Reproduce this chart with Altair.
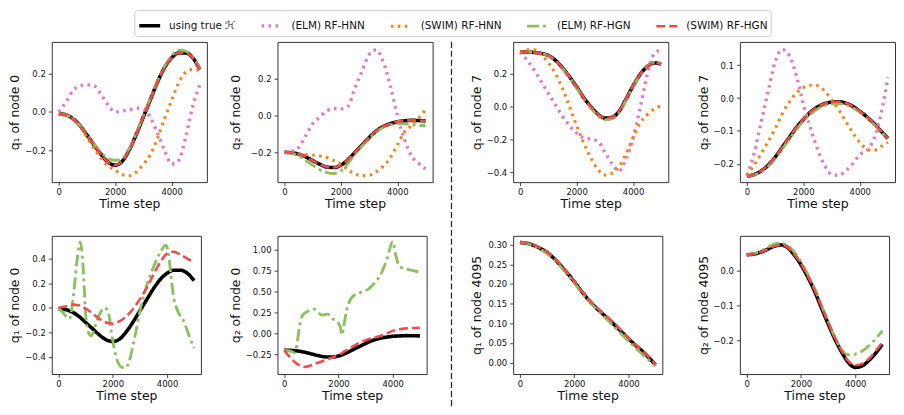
import altair as alt
import pandas as pd

# ---------------- data ----------------
METHODS = ["using true ℋ", "(ELM) RF-HNN", "(SWIM) RF-HNN", "(ELM) RF-HGN", "(SWIM) RF-HGN"]
COLORS = ["#000000", "#e377c2", "#ff7f0e", "#8cbf5e", "#f44a4a"]
DASHES = [[1, 0], [2.6, 4.4], [2.6, 4.4], [12, 4, 3, 4], [9, 4]]
WIDTHS = [3.6, 2.6, 2.6, 2.8, 2.8]

T = [0, 250, 500, 750, 1000, 1250, 1500, 1750, 2000, 2250, 2500,
     2750, 3000, 3250, 3500, 3750, 4000, 4250, 4500, 4750, 5000]

# q1 of node 0
P1_TRUE = [-0.01, -0.015, -0.035, -0.07, -0.12, -0.17, -0.22, -0.26, -0.275, -0.255, -0.195,
           -0.115, -0.025, 0.065, 0.155, 0.23, 0.28, 0.305, 0.305, 0.28, 0.22]
P1_ELM_HNN = [0.0, 0.05, 0.11, 0.135, 0.14, 0.135, 0.09, 0.035, 0.0, 0.005, 0.01,
              0.02, 0.015, -0.03, -0.11, -0.2, -0.27, -0.25, -0.13, 0.03, 0.14]
P1_SWIM_HNN = [-0.01, -0.02, -0.035, -0.075, -0.13, -0.19, -0.24, -0.28, -0.3, -0.325, -0.33,
               -0.31, -0.27, -0.22, -0.135, -0.035, 0.06, 0.15, 0.205, 0.22, 0.215]
P1_ELM_HGN = [-0.01, -0.015, -0.035, -0.07, -0.12, -0.165, -0.21, -0.24, -0.25, -0.24, -0.19,
              -0.11, -0.02, 0.07, 0.16, 0.235, 0.29, 0.32, 0.315, 0.285, 0.225]
P1_SWIM_HGN = [-0.01, -0.015, -0.035, -0.07, -0.12, -0.17, -0.22, -0.26, -0.275, -0.255, -0.195,
               -0.115, -0.025, 0.065, 0.155, 0.23, 0.28, 0.305, 0.305, 0.28, 0.22]

# q2 of node 0
P2_TRUE = [-0.2, -0.203, -0.21, -0.225, -0.245, -0.265, -0.28, -0.283, -0.27, -0.24, -0.2,
           -0.16, -0.12, -0.085, -0.06, -0.045, -0.035, -0.03, -0.027, -0.028, -0.03]
P2_ELM_HNN = [-0.2, -0.195, -0.175, -0.11, -0.045, -0.01, 0.025, 0.037, 0.035, 0.05, 0.15,
              0.24, 0.33, 0.355, 0.29, 0.16, 0.0, -0.13, -0.22, -0.26, -0.29]
P2_SWIM_HNN = [-0.2, -0.205, -0.21, -0.213, -0.215, -0.22, -0.228, -0.245, -0.265, -0.295, -0.318,
               -0.327, -0.325, -0.305, -0.275, -0.23, -0.16, -0.09, -0.055, -0.015, 0.03]
P2_ELM_HGN = [-0.2, -0.205, -0.22, -0.245, -0.27, -0.295, -0.31, -0.315, -0.3, -0.26, -0.21,
              -0.165, -0.125, -0.09, -0.065, -0.05, -0.045, -0.045, -0.05, -0.055, -0.055]
P2_SWIM_HGN = [-0.2, -0.203, -0.21, -0.225, -0.245, -0.265, -0.28, -0.283, -0.27, -0.24, -0.2,
               -0.16, -0.12, -0.085, -0.06, -0.045, -0.035, -0.03, -0.027, -0.028, -0.03]

# q1 of node 7
P3_TRUE = [0.33, 0.33, 0.328, 0.322, 0.31, 0.28, 0.235, 0.18, 0.12, 0.055, 0.0,
           -0.045, -0.07, -0.065, -0.03, 0.045, 0.125, 0.195, 0.242, 0.265, 0.258]
P3_ELM_HNN = [0.33, 0.28, 0.22, 0.15, 0.08, 0.01, -0.06, -0.115, -0.16, -0.19, -0.197,
              -0.21, -0.275, -0.345, -0.39, -0.32, -0.19, -0.01, 0.19, 0.32, 0.345]
P3_SWIM_HNN = [0.33, 0.345, 0.345, 0.315, 0.265, 0.2, 0.11, 0.0, -0.115, -0.22, -0.31,
               -0.38, -0.415, -0.405, -0.365, -0.285, -0.19, -0.1, -0.05, -0.015, 0.005]
P3_ELM_HGN = [0.33, 0.33, 0.328, 0.322, 0.308, 0.278, 0.232, 0.176, 0.115, 0.05, -0.008,
              -0.055, -0.08, -0.075, -0.038, 0.04, 0.122, 0.193, 0.244, 0.268, 0.262]
P3_SWIM_HGN = [0.33, 0.33, 0.328, 0.322, 0.31, 0.28, 0.235, 0.18, 0.12, 0.055, 0.0,
               -0.045, -0.07, -0.065, -0.03, 0.045, 0.125, 0.195, 0.242, 0.265, 0.258]

# q2 of node 7
P4_TRUE = [-0.238, -0.233, -0.222, -0.205, -0.18, -0.15, -0.12, -0.09, -0.065, -0.043, -0.027,
           -0.017, -0.012, -0.011, -0.015, -0.025, -0.04, -0.057, -0.077, -0.1, -0.123]
P4_ELM_HNN = [-0.235, -0.17, -0.075, 0.02, 0.11, 0.148, 0.13, 0.07, -0.018, -0.09, -0.155,
              -0.205, -0.232, -0.235, -0.222, -0.2, -0.172, -0.16, -0.125, -0.05, 0.063]
P4_SWIM_HNN = [-0.235, -0.205, -0.17, -0.133, -0.093, -0.048, -0.012, 0.015, 0.032, 0.039, 0.038,
               0.022, -0.005, -0.035, -0.07, -0.105, -0.135, -0.155, -0.16, -0.148, -0.135]
P4_ELM_HGN = [-0.238, -0.234, -0.224, -0.208, -0.184, -0.155, -0.125, -0.096, -0.07, -0.049, -0.033,
              -0.023, -0.018, -0.017, -0.02, -0.029, -0.043, -0.06, -0.08, -0.102, -0.124]
P4_SWIM_HGN = [-0.238, -0.233, -0.222, -0.205, -0.18, -0.15, -0.12, -0.09, -0.065, -0.043, -0.027,
               -0.017, -0.012, -0.011, -0.015, -0.025, -0.04, -0.057, -0.077, -0.1, -0.123]

# row 2: q1 of node 0
P5_TRUE = P1_TRUE
P5_ELM_HGN_T = [0, 200, 400, 550, 680, 800, 900, 1000, 1100, 1200, 1350, 1500, 1700, 1850,
                1950, 2100, 2300, 2450, 2600, 2800, 3000, 3250, 3500, 3750, 3950, 4050,
                4150, 4250, 4400, 4600, 4800, 5000]
P5_ELM_HGN = [0.0, -0.05, -0.09, 0.1, 0.38, 0.535, 0.35, -0.05, -0.2, -0.23, -0.15, -0.06, 0.0, -0.05,
              -0.2, -0.38, -0.48, -0.49, -0.44, -0.25, -0.03, 0.18, 0.33, 0.45, 0.51, 0.45,
              0.25, 0.08, -0.03, -0.1, -0.22, -0.33]
P5_SWIM_HGN = [0.0, 0.01, 0.025, 0.02, -0.008, -0.045, -0.09, -0.12, -0.13, -0.11, -0.07,
               -0.01, 0.07, 0.16, 0.27, 0.37, 0.44, 0.455, 0.43, 0.4, 0.37]

# row 2: q2 of node 0
P6_TRUE = P2_TRUE
P6_ELM_HGN_T = [0, 200, 400, 480, 560, 650, 750, 900, 1100, 1250, 1400, 1600, 1800, 1950, 2060,
                2130, 2200, 2300, 2450, 2650, 2900, 3100, 3300, 3550, 3800, 4000, 4100, 4250,
                4500, 4750, 5000]
P6_ELM_HGN = [-0.2, -0.21, -0.23, -0.1, 0.08, 0.2, 0.24, 0.27, 0.29, 0.25, 0.22, 0.23, 0.17, 0.14, 0.08,
              -0.02, 0.1, 0.28, 0.41, 0.47, 0.5, 0.53, 0.59, 0.7, 0.9, 1.1, 0.95, 0.8,
              0.77, 0.75, 0.73]
P6_SWIM_HGN = [-0.2, -0.3, -0.37, -0.4, -0.38, -0.35, -0.32, -0.29, -0.26, -0.21, -0.16,
               -0.115, -0.08, -0.055, -0.035, -0.005, 0.03, 0.05, 0.06, 0.065, 0.068]

# row 2: q1 of node 4095
P7_TRUE = [0.305, 0.303, 0.298, 0.29, 0.28, 0.265, 0.247, 0.227, 0.206, 0.183, 0.162,
           0.143, 0.127, 0.111, 0.095, 0.078, 0.061, 0.045, 0.03, 0.013, -0.006]
P7_ELM_HGN = [0.305, 0.303, 0.297, 0.288, 0.277, 0.262, 0.244, 0.224, 0.203, 0.181, 0.16,
              0.141, 0.124, 0.107, 0.089, 0.072, 0.055, 0.038, 0.022, 0.007, -0.009]
P7_SWIM_HGN = [0.306, 0.304, 0.299, 0.291, 0.281, 0.266, 0.248, 0.228, 0.207, 0.184, 0.163,
               0.145, 0.129, 0.114, 0.099, 0.081, 0.063, 0.046, 0.031, 0.014, -0.005]

# row 2: q2 of node 4095
P8_TRUE = [0.045, 0.047, 0.052, 0.06, 0.069, 0.073, 0.066, 0.045, 0.017, -0.018, -0.058,
           -0.105, -0.151, -0.195, -0.232, -0.262, -0.276, -0.272, -0.257, -0.236, -0.21]
P8_ELM_HGN = [0.045, 0.048, 0.055, 0.065, 0.075, 0.078, 0.072, 0.053, 0.025, -0.01, -0.05,
              -0.097, -0.145, -0.19, -0.225, -0.24, -0.238, -0.23, -0.215, -0.195, -0.172]
P8_SWIM_HGN = [0.045, 0.047, 0.052, 0.06, 0.069, 0.073, 0.067, 0.047, 0.02, -0.015, -0.054,
               -0.1, -0.146, -0.19, -0.228, -0.258, -0.27, -0.266, -0.252, -0.23, -0.205]

X_TICKS = [0, 2000, 4000]

# ---------------- chart ----------------
color_scale = alt.Scale(domain=METHODS, range=COLORS)
dash_scale = alt.Scale(domain=METHODS, range=DASHES)
width_scale = alt.Scale(domain=METHODS, range=WIDTHS)

LEG = alt.Legend(
    title=None, orient="none", legendX=83, legendY=-32, direction="horizontal",
    columns=5, symbolType="stroke", symbolSize=441, labelFontSize=10.5,
    labelFont="DejaVu Sans", labelColor="#111111", labelOffset=7, columnPadding=19,
    padding=3, strokeColor="#cccccc", cornerRadius=3, fillColor="white",
)


def panel(title, ydom, yticks, yfmt, series, w, h, ext):
    layers = []
    for method, t, v in series:
        df = pd.DataFrame({"t": t, "v": v, "Method": method})
        layers.append(
            alt.Chart(df).mark_line(interpolate="monotone", clip=True).encode(
                x=alt.X("t:Q", scale=alt.Scale(domain=[-250, 5250], nice=False, zero=False),
                        axis=alt.Axis(values=X_TICKS, format="d", title="Time step")),
                y=alt.Y("v:Q", scale=alt.Scale(domain=ydom, nice=False, zero=False),
                        axis=alt.Axis(values=yticks, format=yfmt, title=title,
                                      minExtent=ext, maxExtent=ext)),
                color=alt.Color("Method:N", scale=color_scale, legend=LEG),
                strokeDash=alt.StrokeDash("Method:N", scale=dash_scale, legend=LEG),
                strokeWidth=alt.StrokeWidth("Method:N", scale=width_scale, legend=LEG),
            )
        )
    return alt.layer(*layers).properties(width=w, height=h)


W1, H1 = 156, 141
W2, H2 = 150, 139

p1 = panel("q₁ of node 0", [-0.363, 0.362], [-0.2, 0.0, 0.2], ".1f",
           [(METHODS[0], T, P1_TRUE), (METHODS[1], T, P1_ELM_HNN), (METHODS[2], T, P1_SWIM_HNN),
            (METHODS[3], T, P1_ELM_HGN), (METHODS[4], T, P1_SWIM_HGN)], W1, H1, 28)
p2 = panel("q₂ of node 0", [-0.362, 0.398], [-0.2, 0.0, 0.2], ".1f",
           [(METHODS[0], T, P2_TRUE), (METHODS[1], T, P2_ELM_HNN), (METHODS[2], T, P2_SWIM_HNN),
            (METHODS[3], T, P2_ELM_HGN), (METHODS[4], T, P2_SWIM_HGN)], W1, H1, 33)
p3 = panel("q₁ of node 7", [-0.458, 0.392], [-0.4, -0.2, 0.0, 0.2], ".1f",
           [(METHODS[0], T, P3_TRUE), (METHODS[1], T, P3_ELM_HNN), (METHODS[2], T, P3_SWIM_HNN),
            (METHODS[3], T, P3_ELM_HGN), (METHODS[4], T, P3_SWIM_HGN)], W1, H1, 28)
p4 = panel("q₂ of node 7", [-0.256, 0.171], [-0.2, -0.1, 0.0, 0.1], ".1f",
           [(METHODS[0], T, P4_TRUE), (METHODS[1], T, P4_ELM_HNN), (METHODS[2], T, P4_SWIM_HNN),
            (METHODS[3], T, P4_ELM_HGN), (METHODS[4], T, P4_SWIM_HGN)], W1, H1, 28)
p5 = panel("q₁ of node 0", [-0.54, 0.585], [-0.4, -0.2, 0.0, 0.2, 0.4], ".1f",
           [(METHODS[0], T, P5_TRUE), (METHODS[3], P5_ELM_HGN_T, P5_ELM_HGN),
            (METHODS[4], T, P5_SWIM_HGN)], W2, H2, 28)
p6 = panel("q₂ of node 0", [-0.486, 1.166], [-0.25, 0.0, 0.25, 0.5, 0.75, 1.0], ".2f",
           [(METHODS[0], T, P6_TRUE), (METHODS[3], P6_ELM_HGN_T, P6_ELM_HGN),
            (METHODS[4], T, P6_SWIM_HGN)], W2, H2, 33)
p7 = panel("q₁ of node 4095", [-0.029, 0.322], [0.0, 0.05, 0.1, 0.15, 0.2, 0.25, 0.3], ".2f",
           [(METHODS[0], T, P7_TRUE), (METHODS[3], T, P7_ELM_HGN),
            (METHODS[4], T, P7_SWIM_HGN)], W2, H2, 28)
p8 = panel("q₂ of node 4095", [-0.295, 0.099], [-0.2, -0.1, 0.0], ".1f",
           [(METHODS[0], T, P8_TRUE), (METHODS[3], T, P8_ELM_HGN),
            (METHODS[4], T, P8_SWIM_HGN)], W2, H2, 28)

left = alt.concat(p1, p2, p5, p6, columns=2, spacing={"row": 24, "column": 21})
right = alt.concat(p3, p4, p7, p8, columns=2, spacing={"row": 24, "column": 27})

SEP_H = 366
sep = alt.Chart(pd.DataFrame({"k": [0]})).mark_rule(
    strokeDash=[6, 3], color="#222222", strokeWidth=1.2
).encode(
    x=alt.value(0), y=alt.value(0), y2=alt.value(SEP_H)
).properties(width=1, height=SEP_H, view=alt.ViewBackground(stroke=None))

chart = alt.hconcat(left, sep, right, spacing=17).properties(
    padding=0
).configure(
    font="DejaVu Sans"
).configure_view(
    stroke="#333333", strokeWidth=1
).configure_axis(
    domain=False, grid=False, tickColor="#333333", tickSize=3.5, tickWidth=0.9,
    labelFontSize=8.5, labelColor="#111111", labelFont="DejaVu Sans",
    titleFontSize=12.5, titleFontWeight=400, titleColor="#111111", titleFont="DejaVu Sans",
).configure_axisX(
    labelPadding=2, titlePadding=2
).configure_axisY(
    labelPadding=3, titlePadding=2
)

chart.save("out.html", embed_options={"renderer": "svg", "actions": False})
